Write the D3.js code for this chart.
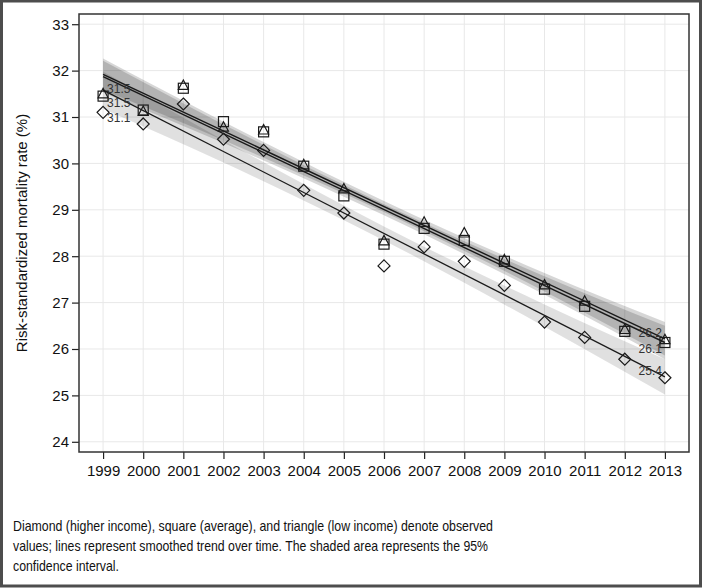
<!DOCTYPE html>
<html>
<head>
<meta charset="utf-8">
<script src="https://d3js.org/d3.v7.min.js"></script>
<style>
  body { margin: 0; background: #fff; }
  svg { display: block; font-family: "Liberation Sans", Arial, sans-serif; }
</style>
</head>
<body>
<script>
'use strict';

// observed values
var years = [1999, 2000, 2001, 2002, 2003, 2004, 2005, 2006, 2007, 2008, 2009, 2010, 2011, 2012, 2013];
var highIncome = [31.1, 30.85, 31.28, 30.52, 30.28, 29.42, 28.93, 27.79, 28.2, 27.89, 27.37, 26.58, 26.25, 25.78, 25.38];
var average    = [31.45, 31.15, 31.62, 30.9, 30.68, 29.94, 29.3, 28.26, 28.6, 28.34, 27.89, 27.29, 26.92, 26.38, 26.14];
var lowIncome  = [31.5, 31.12, 31.68, 30.78, 30.72, 29.97, 29.45, 28.33, 28.73, 28.5, 27.92, 27.38, 27.03, 26.42, 26.2];

// smoothed trend (values at 1999 and 2013)
var trendYears = [1999, 2013];
var trendHigh = [31.58, 25.40];
var trendAvg  = [31.87, 26.14];
var trendLow  = [31.92, 26.22];

// 95% confidence bands
var ciYears = [1999, 2002, 2006, 2010, 2013];
var ciHighLo = [31.18, 30.02, 28.34, 26.48, 25.02];
var ciHighHi = [31.98, 30.50, 28.64, 26.96, 25.78];
var ciAvgLo  = [31.53, 30.44, 28.88, 27.17, 25.78];
var ciAvgHi  = [32.21, 30.84, 29.12, 27.57, 26.50];
var ciLowLo  = [31.58, 30.50, 28.95, 27.24, 25.86];
var ciLowHi  = [32.26, 30.90, 29.19, 27.64, 26.58];

// labels at both ends
var startLabels = ["31.1", "31.5", "31.5"];
var endLabels   = ["25.4", "26.1", "26.2"];

var yTicks = [24, 25, 26, 27, 28, 29, 30, 31, 32, 33];

var caption = [
  "Diamond (higher income), square (average), and triangle (low income) denote observed",
  "values; lines represent smoothed trend over time. The shaded area represents the 95%",
  "confidence interval."
];

var W = 704, H = 588;
var pLeft = 79, pRight = 689, pTop = 14, pBottom = 452;

var svg = d3.select('body').append('svg').attr('width', W).attr('height', H);

var x = d3.scaleLinear().domain([1998.4, 2013.6]).range([pLeft, pRight]);
var y = d3.scaleLinear().domain([23.78, 33.22]).range([pBottom, pTop]);

// grid
var grid = svg.append('g');
grid.selectAll('.gx').data(years).enter().append('line')
  .attr('x1', d => x(d)).attr('x2', d => x(d))
  .attr('y1', pTop).attr('y2', pBottom)
  .attr('stroke', '#e8e8e8').attr('stroke-width', 1);
grid.selectAll('.gy').data(yTicks).enter().append('line')
  .attr('x1', pLeft).attr('x2', pRight)
  .attr('y1', d => y(d)).attr('y2', d => y(d))
  .attr('stroke', '#e8e8e8').attr('stroke-width', 1);

// bands
var band = d3.area()
  .x(d => x(d.t)).y0(d => y(d.lo)).y1(d => y(d.hi))
  .curve(d3.curveMonotoneX);

function bandData(lo, hi) {
  return ciYears.map((t, i) => ({ t: t, lo: lo[i], hi: hi[i] }));
}

[[ciHighLo, ciHighHi, 0.12], [ciAvgLo, ciAvgHi, 0.16], [ciLowLo, ciLowHi, 0.16]].forEach(function(b) {
  svg.append('path')
    .attr('d', band(bandData(b[0], b[1])))
    .attr('fill', '#000').attr('fill-opacity', b[2]);
});

// trend lines
var line = d3.line().x(d => x(d.t)).y(d => y(d.v));
[[trendHigh, 1.3], [trendAvg, 1.4], [trendLow, 1.4]].forEach(function(s) {
  svg.append('path')
    .attr('d', line(trendYears.map((t, i) => ({ t: t, v: s[0][i] }))))
    .attr('fill', 'none').attr('stroke', '#1a1a1a').attr('stroke-width', s[1]);
});

// markers
var mk = svg.append('g').attr('fill', 'none').attr('stroke', '#1a1a1a').attr('stroke-width', 1.2);

mk.selectAll('.dia').data(highIncome).enter().append('path')
  .attr('d', function(d, i) {
    var cx = x(years[i]), cy = y(d), r = 6;
    return 'M' + cx + ',' + (cy - r) + 'L' + (cx + r) + ',' + cy + 'L' + cx + ',' + (cy + r) + 'L' + (cx - r) + ',' + cy + 'Z';
  });

mk.selectAll('.sq').data(average).enter().append('rect')
  .attr('x', (d, i) => x(years[i]) - 5)
  .attr('y', d => y(d) - 5)
  .attr('width', 10).attr('height', 10);

mk.selectAll('.tri').data(lowIncome).enter().append('path')
  .attr('d', function(d, i) {
    var cx = x(years[i]), cy = y(d);
    return 'M' + cx + ',' + (cy - 5.5) + 'L' + (cx + 5) + ',' + (cy + 4) + 'L' + (cx - 5) + ',' + (cy + 4) + 'Z';
  });

// end labels
var series = [highIncome, average, lowIncome];
var startDy = [10, 11, -1];
var endDy = [-2.5, 10.5, -2.5];
var lab = svg.append('g').attr('font-size', '12px').attr('fill', '#333');
series.forEach(function(s, k) {
  lab.append('text')
    .attr('x', x(years[0]) + 4)
    .attr('y', y(s[0]) + startDy[k])
    .text(startLabels[k]);
  lab.append('text')
    .attr('x', x(years[years.length - 1]) - 3)
    .attr('y', y(s[s.length - 1]) + endDy[k])
    .attr('text-anchor', 'end')
    .text(endLabels[k]);
});

// axes
var yAxis = svg.append('g')
  .attr('transform', 'translate(' + pLeft + ',0)')
  .call(d3.axisLeft(y).tickValues(yTicks).tickSize(7).tickPadding(3));
var xAxis = svg.append('g')
  .attr('transform', 'translate(0,' + pBottom + ')')
  .call(d3.axisBottom(x).tickValues(years).tickFormat(d3.format('d')).tickSize(7).tickPadding(6));

[yAxis, xAxis].forEach(function(a) {
  a.select('.domain').remove();
  a.selectAll('line').attr('stroke', '#222').attr('stroke-width', 1.2);
  a.selectAll('text').attr('font-size', '15px').attr('fill', '#111')
    .attr('font-family', '"Liberation Sans", Arial, sans-serif');
});

// plot frame
svg.append('rect')
  .attr('x', pLeft).attr('y', pTop)
  .attr('width', pRight - pLeft).attr('height', pBottom - pTop)
  .attr('fill', 'none').attr('stroke', '#333').attr('stroke-width', 1.5);

// y title
svg.append('text')
  .attr('transform', 'translate(26.5,' + ((pTop + pBottom) / 2) + ') rotate(-90)')
  .attr('text-anchor', 'middle')
  .attr('font-size', '15px').attr('fill', '#111')
  .text('Risk-standardized mortality rate (%)');

// caption
var capLen = [480, 475, 106];
caption.forEach(function(c, i) {
  svg.append('text')
    .attr('x', 13).attr('y', 531 + i * 20)
    .attr('font-size', '14.5px').attr('fill', '#111')
    .attr('font-family', '"Liberation Sans Narrow", "Arial Narrow", "Liberation Sans", Arial, sans-serif')
    .attr('textLength', capLen[i]).attr('lengthAdjust', 'spacingAndGlyphs')
    .text(c);
});

// outer frame
svg.append('rect')
  .attr('x', 1.5).attr('y', 1).attr('width', 699).attr('height', 585)
  .attr('fill', 'none').attr('stroke', '#4d4d4d').attr('stroke-width', 3);
</script>
</body>
</html>
